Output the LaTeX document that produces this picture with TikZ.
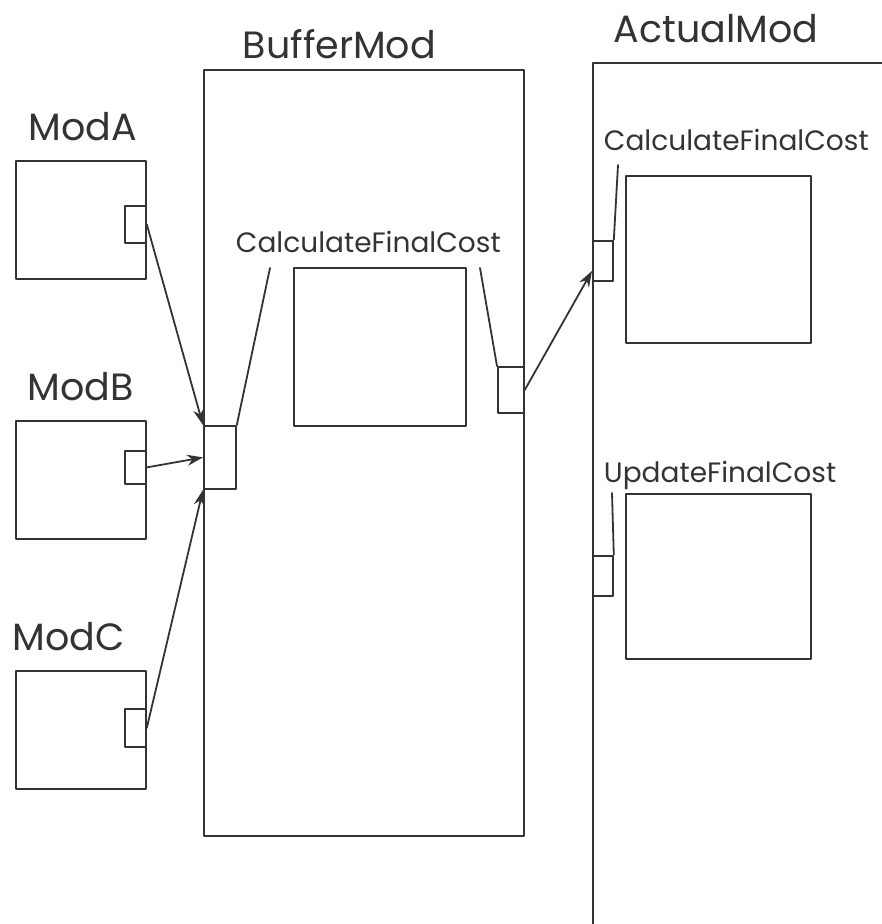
\documentclass[tikz,border=0pt]{standalone}
\usepackage{fontspec}
\setmainfont{Poppins}
\usetikzlibrary{arrows.meta,positioning}
\definecolor{ink}{gray}{0.2}
\tikzset{
	box/.style 2 args={draw, anchor=north west, inner sep=0pt, minimum width=#1, minimum height=#2},
	lbl/.style={anchor=base west, inner sep=0pt, text=ink, font=\fontsize{38}{38}\selectfont},
	sublbl/.style={anchor=base west, inner sep=0pt, text=ink, font=\fontsize{28}{28}\selectfont}
}
\begin{document}
\begin{tikzpicture}[x=1pt, y=-1pt, line width=1.8pt, color=ink, line join=round, line cap=round, >={Stealth[length=16pt,width=11pt]}]
	\clip (0,0) rectangle (882,924);
	% calling modules
	\foreach \n/\y/\p/\h/\lx in {A/160/45/37/28, B/420/30/33/27, C/670/38/38/12}{
		\node[box={130pt}{118pt}] (mod\n) at (15,\y) {};
		\node[box={21pt}{\h pt}] (port\n) at (124,\y+\p) {};
		\node[lbl] (lab\n) at (\lx,\y-20) {Mod\n};
	}
	% buffer module
	\node[box={320pt}{766pt}] (buffer) at (203,69) {};
	\node[lbl] (labbuffer) at (242,58) {BufferMod};
	\node[box={32pt}{63pt}] (bufin) at (203,425) {};
	\node[box={172pt}{158pt}] (bufcalc) at (293,267) {};
	\node[sublbl] (labbufcalc) at (235,252) {CalculateFinalCost};
	\node[box={26pt}{46pt}] (bufout) at (497,366) {};
	\coordinate (bufinend) at (270,268);
	\coordinate (bufoutend) at (480,268);
	% actual module
	\node[box={330pt}{900pt}] (actual) at (592,62) {};
	\node[lbl] (labactual) at (613,42) {ActualMod};
	\node[box={20pt}{40pt}] (actin) at (592,240) {};
	\node[box={185pt}{167pt}] (actcalc) at (625,175) {};
	\node[sublbl] (labactcalc) at (603,150) {CalculateFinalCost};
	\coordinate (actcalcend) at (618,165);
	\node[box={20pt}{40pt}] (actupd) at (592,555) {};
	\node[box={185pt}{165pt}] (actupdbox) at (625,493) {};
	\node[sublbl] (labactupd) at (603,482) {UpdateFinalCost};
	\coordinate (actupdend) at (612,493);
	% connectors
	\draw[->] (portA.east) -- (bufin.north west);
	\draw[->] (portB.east) -- (bufin.west);
	\draw[->] (portC.east) -- (bufin.south west);
	\draw (bufin.north east) -- (bufinend);
	\draw (bufout.north west) -- (bufoutend);
	\draw[->] (bufout.east) -- ([yshift=-10pt]actin.west);
	\draw (actin.north east) -- (actcalcend);
	\draw (actupd.north east) -- (actupdend);
\end{tikzpicture}
\end{document}
